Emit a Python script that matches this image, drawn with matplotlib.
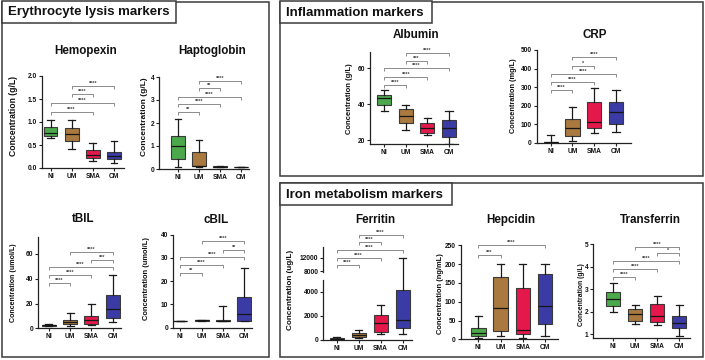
import numpy as np
import matplotlib
matplotlib.use('Agg')
import matplotlib.pyplot as plt
from matplotlib.patches import Rectangle
from matplotlib.transforms import blended_transform_factory

W, H = 705, 360
plt.rcParams['font.family'] = ['Liberation Sans', 'DejaVu Sans']
plt.rcParams['font.weight'] = 'bold'

groups = ['NI', 'UM', 'SMA', 'CM']
colors = ['#4BA84B', '#A9793F', '#E4184A', '#3B3BA5']

# ---------------- data (five-number summaries per group) ----------------
hemopexin_lo = [0.65, 0.42, 0.15, 0.10]
hemopexin_q1 = [0.70, 0.59, 0.22, 0.19]
hemopexin_med = [0.76, 0.74, 0.28, 0.27]
hemopexin_q3 = [0.90, 0.87, 0.40, 0.35]
hemopexin_hi = [1.05, 1.05, 0.55, 0.58]

hapto_lo = [0.10, 0.10, 0.10, 0.10]
hapto_q1 = [0.45, 0.12, 0.10, 0.10]
hapto_med = [1.00, 0.13, 0.10, 0.10]
hapto_q3 = [1.43, 0.72, 0.11, 0.10]
hapto_hi = [2.18, 1.28, 0.12, 0.10]

tbil_lo = [1.5, 1.6, 2.4, 4.8]
tbil_q1 = [2.0, 3.2, 3.5, 8.6]
tbil_med = [2.3, 5.1, 6.5, 15.6]
tbil_q3 = [2.8, 6.7, 9.7, 26.6]
tbil_hi = [3.3, 12.1, 19.4, 43.3]

cbil_lo = [3.0, 3.0, 3.0, 3.0]
cbil_q1 = [3.0, 3.0, 3.0, 3.0]
cbil_med = [3.0, 3.1, 3.0, 5.9]
cbil_q3 = [3.0, 3.3, 3.1, 13.0]
cbil_hi = [3.0, 3.4, 9.5, 25.8]

albumin_lo = [36.2, 25.6, 22.8, 17.6]
albumin_q1 = [39.4, 29.5, 24.1, 21.9]
albumin_med = [43.1, 33.2, 26.9, 26.7]
albumin_q3 = [45.1, 37.3, 29.3, 31.2]
albumin_hi = [47.6, 39.4, 32.1, 36.0]

crp_lo = [0, 11, 50, 56]
crp_q1 = [0, 36, 77, 103]
crp_med = [2, 81, 112, 164]
crp_q3 = [5, 126, 218, 218]
crp_hi = [43, 191, 293, 282]

ferritin_lo = [10, 140, 470, 500]
ferritin_q1 = [30, 250, 670, 940]
ferritin_med = [80, 420, 1360, 1640]
ferritin_q3 = [150, 580, 2060, 4140]
ferritin_hi = [250, 800, 2890, 11900]

hepcidin_lo = [3, 9, 3, 10]
hepcidin_q1 = [9, 23, 15, 40]
hepcidin_med = [16, 82, 24, 89]
hepcidin_q3 = [31, 165, 136, 173]
hepcidin_hi = [63, 200, 199, 200]

transferrin_lo = [1.99, 1.44, 1.41, 0.91]
transferrin_q1 = [2.26, 1.61, 1.53, 1.27]
transferrin_med = [2.57, 1.90, 1.81, 1.50]
transferrin_q3 = [2.87, 2.11, 2.33, 1.83]
transferrin_hi = [3.28, 2.29, 2.69, 2.30]

# significance brackets: group pairs, labels, bracket heights (data units)
hemopexin_pairs = [(1, 3), (1, 2), (0, 3), (0, 2)]
hemopexin_sig = ['****', '****', '****', '****']
hemopexin_sig_y = [1.78, 1.61, 1.41, 1.22]

hapto_pairs = [(1, 3), (1, 2), (0, 3), (0, 2), (0, 1)]
hapto_sig = ['****', '**', '****', '****', '**']
hapto_sig_y = [3.83, 3.52, 3.13, 2.83, 2.48]

tbil_pairs = [(1, 3), (2, 3), (0, 3), (0, 2), (0, 1)]
tbil_sig = ['****', '***', '****', '****', '****']
tbil_sig_y = [61.6, 55.1, 49.5, 43.0, 36.5]

cbil_pairs = [(1, 3), (2, 3), (0, 3), (0, 2), (0, 1)]
cbil_sig = ['****', '**', '****', '****', '**']
cbil_sig_y = [37.3, 33.3, 30.4, 26.9, 23.6]

albumin_pairs = [(1, 3), (1, 2), (0, 3), (0, 2), (0, 1)]
albumin_sig = ['****', '***', '****', '****', '****']
albumin_sig_y = [68.2, 64.1, 59.8, 55.2, 50.6]

crp_pairs = [(1, 3), (1, 2), (0, 3), (0, 2), (0, 1)]
crp_sig = ['****', '*', '****', '****', '****']
crp_sig_y = [460, 415, 371, 327, 286]

ferritin_pairs = [(1, 3), (1, 2), (0, 3), (0, 2), (0, 1)]
ferritin_sig = ['****', '****', '****', '****', '****']
ferritin_sig_y = [18900, 16600, 14200, 12000, 9700]

hepcidin_pairs = [(0, 3), (0, 1)]
hepcidin_sig = ['****', '***']
hepcidin_sig_y = [251, 224]

transferrin_pairs = [(1, 3), (2, 3), (0, 3), (0, 2), (0, 1)]
transferrin_sig = ['****', '*', '****', '****', '****']
transferrin_sig_y = [4.90, 4.60, 4.26, 3.92, 3.53]


# broken axis for ferritin
def ferr_fwd(y):
    y = np.asarray(y, dtype=float)
    return np.where(y <= 5000, y * 0.012,
                    np.where(y < 7800, 60 + (y - 5000) * 8 / 2800,
                             68 + (y - 7800) * 0.00333))


def ferr_inv(v):
    v = np.asarray(v, dtype=float)
    return np.where(v <= 60, v / 0.012,
                    np.where(v < 68, 5000 + (v - 60) * 2800 / 8,
                             7800 + (v - 68) / 0.00333))


fig = plt.figure(figsize=(W / 100, H / 100), dpi=100)
fig.patch.set_facecolor('white')

AX_COL = '#222222'
FRAME_COL = '#3a3a3a'


def fig_rect(x1, y1, x2, y2, fill=False):
    r = Rectangle((x1 / W, 1 - y2 / H), (x2 - x1) / W, (y2 - y1) / H,
                  transform=fig.transFigure, fill=fill, facecolor='white',
                  edgecolor=FRAME_COL, linewidth=1.1, zorder=5)
    fig.add_artist(r)


def panel_frame(x1, y1, x2, y2, tx2, ty2, text):
    fig_rect(x1, y1, x2, y2)
    fig_rect(x1, y1, tx2, ty2, fill=True)
    fig.text((x1 + 6) / W, 1 - ((y1 + ty2) / 2 + 0.5) / H, text, ha='left',
             va='center', fontsize=9.5, fontweight='bold', color='#111111', zorder=6)


def bracket(ax, i, j, y, label):
    d = ax.transData.transform([(i, y)])[0]
    ylow = ax.transData.inverted().transform([(d[0], d[1] - 3)])[0][1]
    ax.plot([i, i, j, j], [ylow, y, y, ylow], color='#7a7a7a', lw=0.6,
            clip_on=False, solid_capstyle='butt')
    ax.text((i + j) / 2, y, label, ha='center', va='bottom', fontsize=4,
            color='#444444', clip_on=False)


def draw_panel(px, title, title_xy, ylabel, ylab_px, ylab_fs,
               lo, q1, med, q3, hi, ylim, yticks, ytl,
               pairs, sigs, sig_y, scale=None):
    xl, yt, xr, yb, x0, x3 = px
    ax = fig.add_axes([xl / W, 1 - yb / H, (xr - xl) / W, (yb - yt) / H])
    sp = (x3 - x0) / 3
    ax.set_xlim((xl - x0) / sp, (xr - x0) / sp)
    if scale is not None:
        ax.set_yscale('function', functions=scale)
    ax.set_ylim(*ylim)
    stats = [dict(whislo=lo[k], q1=q1[k], med=med[k], q3=q3[k], whishi=hi[k])
             for k in range(4)]
    bp = ax.bxp(stats, positions=range(4), widths=0.65, capwidths=0.33,
                patch_artist=True, showfliers=False,
                boxprops=dict(edgecolor='#3a3a3a', linewidth=0.8),
                medianprops=dict(color='#151515', linewidth=0.9),
                whiskerprops=dict(color='#1a1a1a', linewidth=0.9),
                capprops=dict(color='#1a1a1a', linewidth=0.9))
    for patch, c in zip(bp['boxes'], colors):
        patch.set_facecolor(c)
    for s in ['top', 'right']:
        ax.spines[s].set_visible(False)
    for s in ['left', 'bottom']:
        ax.spines[s].set_color(AX_COL)
        ax.spines[s].set_linewidth(0.9)
    ax.set_xticks(range(4))
    ax.set_xticklabels(groups, fontsize=4.8, fontweight='bold')
    ax.set_yticks(yticks)
    ax.set_yticklabels(ytl, fontsize=4.8, fontweight='bold')
    ax.minorticks_off()
    ax.tick_params(axis='both', direction='out', length=2.3, width=0.8,
                   color=AX_COL, pad=1.2, labelcolor='#111111')
    ax.set_facecolor('none')
    ax.set_ylabel(ylabel, fontsize=ylab_fs, fontweight='bold', color='#111111')
    lx, ly = ylab_px
    ax.yaxis.set_label_coords((lx - xl) / (xr - xl), (yb - ly) / (yb - yt))
    for (i, j), s, y in zip(pairs, sigs, sig_y):
        bracket(ax, i, j, y, s)
    fig.text(title_xy[0] / W, 1 - title_xy[1] / H, title, ha='center',
             va='center', fontsize=8.4, fontweight='bold', color='#111111')
    return ax


# panel frames
panel_frame(1.5, 1.5, 269, 356.5, 176.5, 22.5, 'Erythrocyte lysis markers')
panel_frame(280, 1.5, 703, 175.5, 432, 22.5, 'Inflammation markers')
panel_frame(280, 183, 703, 356.5, 452, 205, 'Iron metabolism markers')

draw_panel((42, 76, 124, 168, 50.5, 114), 'Hemopexin', (86, 51),
           'Concentration (g/L)', (18.3, 116), 6.2,
           hemopexin_lo, hemopexin_q1, hemopexin_med, hemopexin_q3, hemopexin_hi,
           (0, 2.0), [0, 0.5, 1.0, 1.5, 2.0], ['0.0', '0.5', '1.0', '1.5', '2.0'],
           hemopexin_pairs, hemopexin_sig, hemopexin_sig_y)

draw_panel((159, 77, 249, 169, 178, 241), 'Haptoglobin', (212, 51),
           'Concentration (g/L)', (148.5, 116.7), 6.0,
           hapto_lo, hapto_q1, hapto_med, hapto_q3, hapto_hi,
           (0, 4), [0, 1, 2, 3, 4], ['0', '1', '2', '3', '4'],
           hapto_pairs, hapto_sig, hapto_sig_y)

draw_panel((38.3, 237, 120.7, 328.3, 48.7, 112.7), 'tBIL', (83, 219),
           'Concentration (umol/L)', (17.3, 282.5), 5.1,
           tbil_lo, tbil_q1, tbil_med, tbil_q3, tbil_hi,
           (0, 73.7), [0, 20, 40, 60], ['0', '20', '40', '60'],
           tbil_pairs, tbil_sig, tbil_sig_y)

draw_panel((173.3, 234.7, 252, 327.7, 180.3, 244.3), 'cBIL', (216, 220),
           'Concentration (umol/L)', (150, 279), 5.4,
           cbil_lo, cbil_q1, cbil_med, cbil_q3, cbil_hi,
           (0, 40), [0, 10, 20, 30, 40], ['0', '10', '20', '30', '40'],
           cbil_pairs, cbil_sig, cbil_sig_y)

draw_panel((369.7, 52, 458.3, 144, 384.3, 449), 'Albumin', (415.7, 35),
           'Concentration (g/L)', (352.7, 98.3), 5.5,
           albumin_lo, albumin_q1, albumin_med, albumin_q3, albumin_hi,
           (17.8, 68.9), [20, 40, 60], ['20', '40', '60'],
           albumin_pairs, albumin_sig, albumin_sig_y)

draw_panel((536.7, 50, 630.7, 142.7, 550.7, 616), 'CRP', (595, 35),
           'Concentration (mg/L)', (516.7, 95.8), 5.3,
           crp_lo, crp_q1, crp_med, crp_q3, crp_hi,
           (0, 500), [0, 100, 200, 300, 400, 500],
           ['0', '100', '200', '300', '400', '500'],
           crp_pairs, crp_sig, crp_sig_y)

axf = draw_panel((323.3, 246.7, 411.7, 339.7, 336.7, 402.7), 'Ferritin', (375, 220),
                 'Concentration (ug/L)', (294, 290), 5.9,
                 ferritin_lo, ferritin_q1, ferritin_med, ferritin_q3, ferritin_hi,
                 (0, 15300), [0, 2000, 4000, 8000, 12000],
                 ['0', '2000', '4000', '8000', '12000'],
                 ferritin_pairs, ferritin_sig, ferritin_sig_y,
                 scale=(ferr_fwd, ferr_inv))
axf.spines['left'].set_visible(False)
btr = blended_transform_factory(axf.transAxes, axf.transData)
axf.plot([0, 0], [0, 5000], transform=btr, color=AX_COL, lw=0.9, clip_on=False)
axf.plot([0, 0], [7800, 15300], transform=btr, color=AX_COL, lw=0.9, clip_on=False)

draw_panel((460.7, 245.3, 558, 339.3, 478.3, 545), 'Hepcidin', (510.7, 220),
           'Concentration (ng/mL)', (444, 293.3), 5.4,
           hepcidin_lo, hepcidin_q1, hepcidin_med, hepcidin_q3, hepcidin_hi,
           (0, 250), [0, 50, 100, 150, 200, 250],
           ['0', '50', '100', '150', '200', '250'],
           hepcidin_pairs, hepcidin_sig, hepcidin_sig_y)

draw_panel((593.3, 244.3, 690, 337.7, 613.3, 679.3), 'Transferrin', (650, 220),
           'Concentration (g/L)', (585, 295), 4.9,
           transferrin_lo, transferrin_q1, transferrin_med, transferrin_q3, transferrin_hi,
           (0.85, 5), [1, 2, 3, 4, 5], ['1', '2', '3', '4', '5'],
           transferrin_pairs, transferrin_sig, transferrin_sig_y)

fig.savefig('out.png', dpi=100, facecolor='white')
